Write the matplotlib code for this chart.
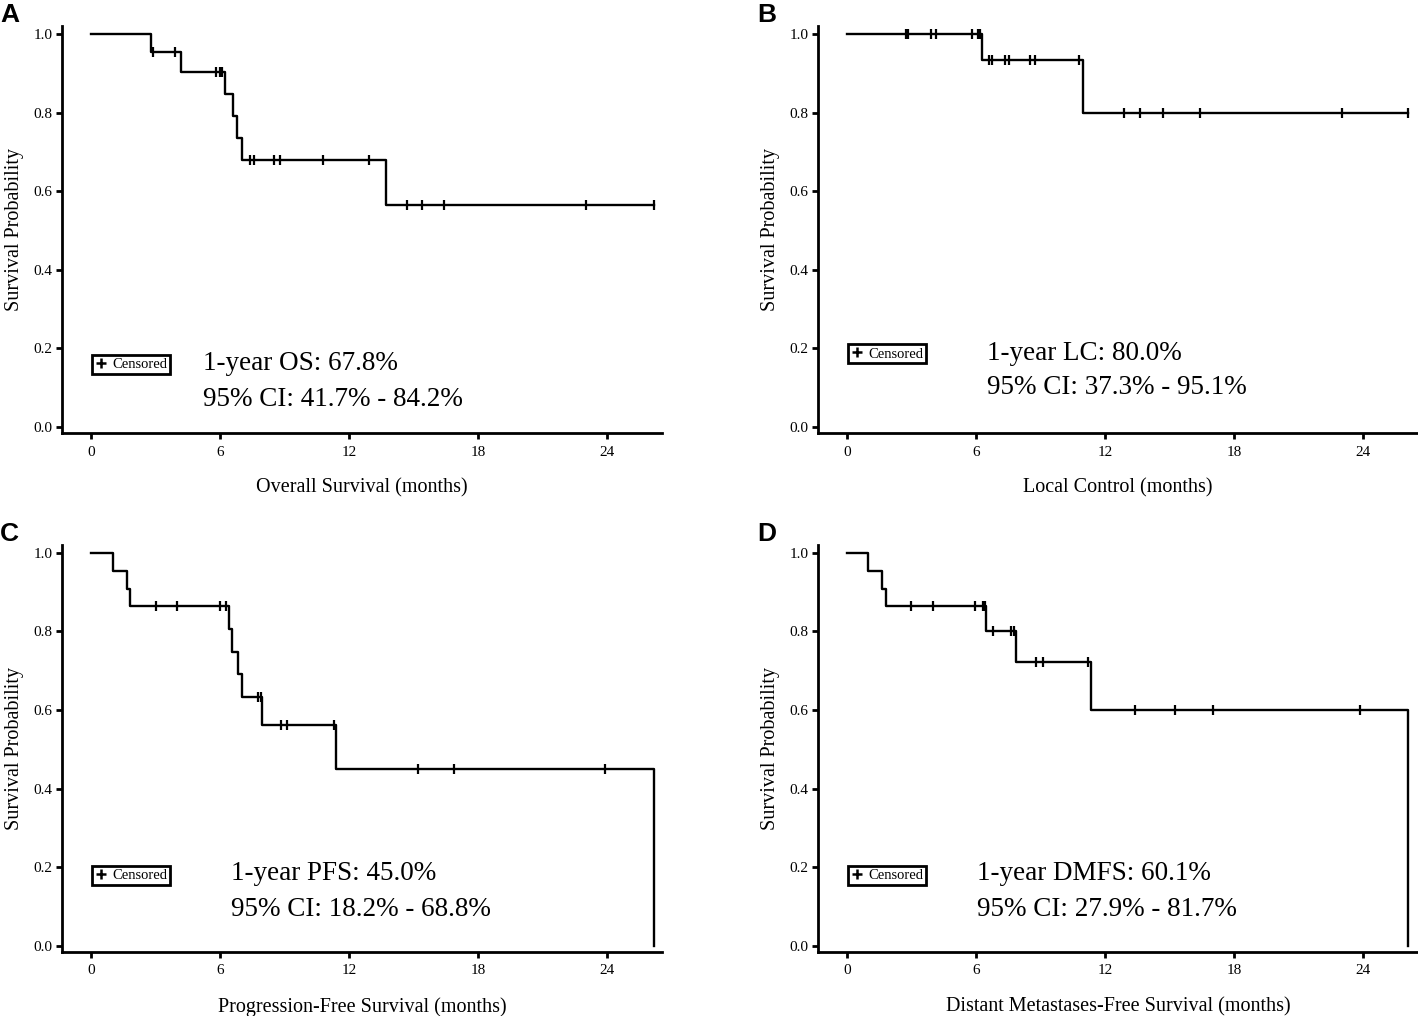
import numpy as np
import matplotlib
matplotlib.use("Agg")
import matplotlib.pyplot as plt
from matplotlib.lines import Line2D

plt.rcParams['font.family'] = ['Liberation Serif', 'DejaVu Serif']

# DATA (months / survival probability)
os_times = [0, 2.8, 4.2, 6.22, 6.6, 6.8, 7.0, 13.7, 26.2]
os_surv = [1.0, 0.955, 0.904, 0.848, 0.791, 0.735, 0.678, 0.565, 0.565]
os_censor = [2.9, 3.9, 5.8, 6.0, 6.1, 7.4, 7.6, 8.5, 8.8, 10.8, 12.95,
             14.7, 15.4, 16.4, 23.0, 26.2]

lc_times = [0, 6.26, 10.95, 26.1]
lc_surv = [1.0, 0.933, 0.80, 0.80]
lc_censor = [2.75, 2.85, 3.9, 4.15, 5.8, 6.1, 6.2, 6.6, 6.75, 7.35, 7.55,
             8.5, 8.75, 10.8, 12.9, 13.6, 14.7, 16.4, 23.0, 26.1]

pfs_times = [0, 1.0, 1.66, 1.8, 6.4, 6.55, 6.85, 7.0, 7.95, 11.4, 26.2]
pfs_surv = [1.0, 0.955, 0.909, 0.864, 0.806, 0.748, 0.691, 0.634, 0.563, 0.450, 0.0]
pfs_censor = [3.0, 4.0, 6.0, 6.3, 7.75, 7.9, 8.85, 9.1, 11.3, 15.2, 16.9, 23.9]

dmfs_times = [0, 0.98, 1.63, 1.8, 6.47, 7.85, 11.35, 26.1]
dmfs_surv = [1.0, 0.955, 0.909, 0.864, 0.802, 0.722, 0.601, 0.0]
dmfs_censor = [2.96, 3.99, 5.97, 6.3, 6.4, 6.8, 7.6, 7.75, 8.8, 9.1, 11.2,
               13.4, 15.25, 17.0, 23.85]

panel_letters = ["A", "B", "C", "D"]
x_labels = ["Overall Survival (months)", "Local Control (months)",
            "Progression-Free Survival (months)",
            "Distant Metastases-Free Survival (months)"]
line1 = ["1-year OS: 67.8%", "1-year LC: 80.0%", "1-year PFS: 45.0%", "1-year DMFS: 60.1%"]
line2 = ["95% CI: 41.7% - 84.2%", "95% CI: 37.3% - 95.1%",
         "95% CI: 18.2% - 68.8%", "95% CI: 27.9% - 81.7%"]

# layout stuff
axes_pos = [(0.0437, 0.5738), (0.5769, 0.5738), (0.0437, 0.0630), (0.5769, 0.0630)]
letter_pos = [(0.0, 0.997), (0.534, 0.997), (0.0, 0.486), (0.534, 0.486)]
text_xy = [(5.2, 0.163, 0.069), (6.5, 0.188, 0.102), (6.5, 0.184, 0.094), (6.05, 0.184, 0.094)]
legend_y = [0.16, 0.186, 0.179, 0.179]


def km_panel(ax, times, surv, censor):
    ax.step(times, surv, where='post', color='black', lw=1.7)
    idx = np.searchsorted(times, censor, side='right') - 1
    cy = np.array(surv)[idx]
    ax.plot(censor, cy, ls='none', marker='|', ms=7, mew=1.6, color='black')


fig = plt.figure(figsize=(14.18, 10.16), dpi=100)
curves = [(os_times, os_surv, os_censor), (lc_times, lc_surv, lc_censor),
          (pfs_times, pfs_surv, pfs_censor), (dmfs_times, dmfs_surv, dmfs_censor)]

for i, (t, s, c) in enumerate(curves):
    ax = fig.add_axes([axes_pos[i][0], axes_pos[i][1], 0.4231, 0.4006])
    km_panel(ax, t, s, c)

    ax.set_xlim(-1.35, 26.55)
    ax.set_ylim(-0.015, 1.02)
    ax.set_xticks([0, 6, 12, 18, 24])
    ax.set_yticks([0.0, 0.2, 0.4, 0.6, 0.8, 1.0])
    ax.set_yticklabels(["%.1f" % v for v in [0.0, 0.2, 0.4, 0.6, 0.8, 1.0]])
    ax.spines['top'].set_visible(False)
    ax.spines['right'].set_visible(False)
    ax.spines['left'].set_linewidth(2)
    ax.spines['bottom'].set_linewidth(2)
    ax.tick_params(width=2, length=4, labelsize=11)
    ax.tick_params(axis='x', pad=5)
    ax.tick_params(axis='y', pad=3)

    ax.set_xlabel(x_labels[i], fontsize=14.5, labelpad=14)
    ax.set_ylabel("Survival Probability", fontsize=14.5, labelpad=7)

    tx, ty1, ty2 = text_xy[i]
    ax.text(tx, ty1, line1[i], fontsize=19.5, va='center', ha='left')
    ax.text(tx, ty2, line2[i], fontsize=19.5, va='center', ha='left')

    handle = Line2D([], [], ls='none', marker='+', ms=7, mew=1.8, color='black')
    leg = ax.legend([handle], ["Censored"], loc='center left',
                    bbox_to_anchor=(0.05, legend_y[i]), bbox_transform=ax.transData,
                    fancybox=False, framealpha=1, edgecolor='black', fontsize=10.5,
                    borderpad=0.2, handlelength=0.8, handletextpad=0.4, borderaxespad=0)
    leg.get_frame().set_linewidth(2)

    fig.text(letter_pos[i][0], letter_pos[i][1], panel_letters[i], fontsize=19,
             fontweight='bold', family=['Liberation Sans', 'DejaVu Sans'], va='top')

fig.savefig("out.png", dpi=100)
